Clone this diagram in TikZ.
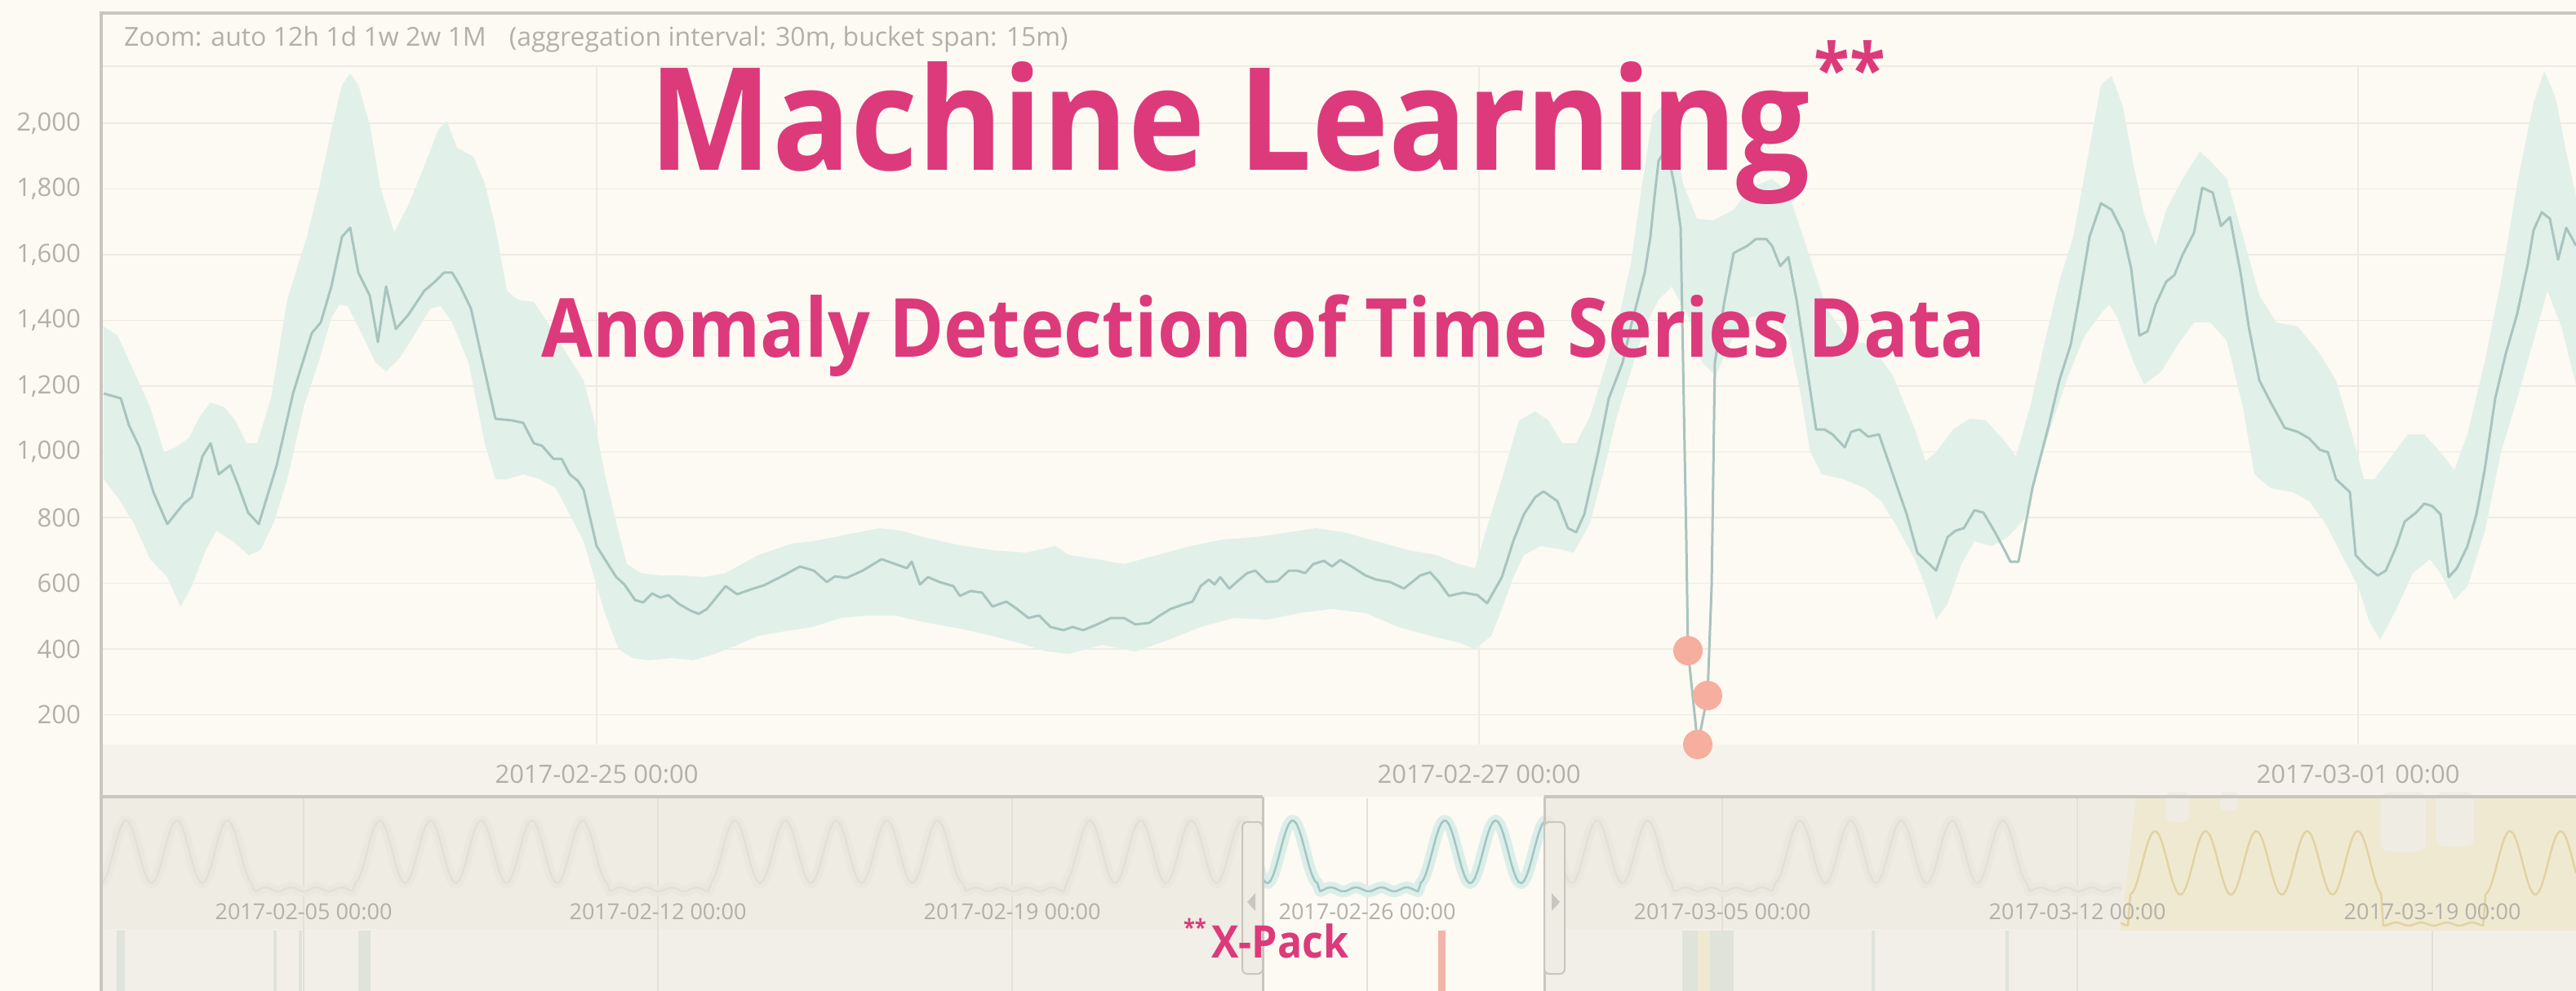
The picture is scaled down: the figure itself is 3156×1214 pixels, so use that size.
\documentclass[tikz,border=0pt]{standalone}
\usepackage{fontspec}
\setmainfont{Open Sans}
\newfontfamily\titlefont[FakeStretch=0.91]{Open Sans}

\definecolor{paper}{HTML}{FCFAF2}
\definecolor{framec}{HTML}{C8C6BE}
\definecolor{gridc}{HTML}{EEECE2}
\definecolor{labelc}{HTML}{B2B0A8}
\definecolor{bandc}{HTML}{E2F0EA}
\definecolor{linec}{HTML}{A8C4BF}
\definecolor{anomc}{HTML}{F6AE9F}
\definecolor{pinkc}{HTML}{DC3A7B}
\definecolor{axisbg}{HTML}{F4F2EA}
\definecolor{ovshade}{HTML}{EEECE3}
\definecolor{lanebg}{HTML}{F1EFE8}
\definecolor{grayband}{HTML}{EAE8DF}
\definecolor{grayline}{HTML}{E2E0D7}
\definecolor{yellowbg}{HTML}{F0E9D2}
\definecolor{yellowc}{HTML}{E2D2A3}
\definecolor{tealband}{HTML}{DCEEEA}
\definecolor{tealline}{HTML}{A2C6C1}
\definecolor{lanebar}{HTML}{DFE3DA}
\definecolor{redbar}{HTML}{F3B4A9}

\begin{document}
\begin{tikzpicture}[x=1pt, y=-1pt,
    declare function={
      dayno(\x)=(\x-372)/62.14;
      wkday(\x)=mod(floor(dayno(\x))+70,7);
      dayfrac(\x)=dayno(\x)-floor(dayno(\x));
      wkend(\x)=or(wkday(\x)==0,wkday(\x)==6);
      miniy(\x)=wkend(\x)*(1092-5*sin(360*dayfrac(\x))^2)+(1-wkend(\x))*(1082-77*sin(180*dayfrac(\x))^2);
      yelly(\x)=wkend(\x)*(1134-4*sin(360*dayfrac(\x))^2)+(1-wkend(\x))*(1096-78*sin(180*dayfrac(\x))^2);
    },
    chartlabel/.style={text=labelc, inner sep=0pt, font=\fontsize{31}{33}\selectfont},
    ovlabel/.style={text=labelc, inner sep=0pt, font=\fontsize{27}{29}\selectfont},
    gridline/.style={gridc, line width=1.5pt},
    frameline/.style={framec, line width=4pt},
    dataline/.style={linec, line width=3pt, line join=round},
    anomaly/.style={circle, fill=anomc, minimum size=36pt, inner sep=0pt},
    handle/.style={draw=framec, fill=ovshade, rounded corners=6pt, line width=2pt},
    pinktext/.style={text=pinkc, inner sep=0pt}]

  \useasboundingbox (0,0) rectangle (3156,1214);
  \fill[paper] (0,0) rectangle (3156,1214);

  % main chart
  \foreach \k in {0,...,9}
    \draw[gridline] (126,{151+80.5*\k}) -- (3156,{151+80.5*\k});
  \foreach \gx in {731,1812,2889}
    \draw[gridline] (\gx,81) -- (\gx,912);
  \draw[gridc, line width=2pt] (126,81) -- (3156,81);

  \begin{scope}
    \clip (126,82) rectangle (3156,912);
    \fill[bandc] plot coordinates {(127,400) (144,411) (164,455) (184,499) (201,554) (215,548) (231,537) (245,510) (258,493) (275,499) (288,515) (302,543) (315,543) (332,488) (352,367) (376,290) (392,225) (406,159) (419,104) (429,90) (439,104) (453,153) (466,230) (483,285) (500,252) (520,203) (537,159) (547,148) (560,181) (580,192) (594,225) (607,279) (621,356) (634,367) (654,370) (674,400) (694,433) (715,466) (728,515) (741,581) (755,641) (768,691) (785,702) (809,705) (835,705) (862,707) (889,702) (929,680) (970,666) (996,663) (1037,655) (1077,647) (1104,650) (1131,658) (1176,668) (1216,674) (1257,677) (1293,669) (1310,680) (1344,685) (1377,691) (1418,680) (1458,669) (1498,661) (1538,658) (1579,652) (1612,647) (1646,652) (1686,663) (1726,674) (1760,680) (1787,691) (1807,696) (1820,652) (1840,587) (1861,515) (1881,504) (1897,515) (1914,543) (1931,543) (1948,510) (1965,455) (1981,400) (1998,323) (2012,225) (2025,142) (2035,131) (2048,153) (2062,225) (2079,268) (2099,270) (2124,257) (2144,230) (2171,219) (2191,236) (2211,296) (2238,378) (2265,417) (2292,422) (2319,460) (2346,526) (2359,565) (2372,554) (2393,526) (2413,513) (2433,515) (2453,537) (2470,559) (2487,499) (2507,411) (2523,345) (2540,290) (2560,181) (2574,104) (2587,93) (2601,131) (2614,203) (2627,263) (2641,301) (2654,257) (2674,219) (2695,186) (2708,197) (2728,219) (2748,290) (2768,362) (2789,395) (2815,400) (2842,433) (2862,466) (2883,537) (2896,587) (2909,587) (2930,559) (2950,532) (2970,532) (2990,554) (3007,576) (3023,532) (3044,444) (3064,345) (3084,225) (3104,126) (3117,87) (3131,120) (3144,186) (3156,241)}
      -- plot coordinates {(3156,471) (3138,400) (3121,356) (3104,417) (3084,488) (3064,554) (3044,652) (3023,718) (3007,735) (2990,702) (2977,685) (2956,702) (2936,746) (2916,784) (2903,762) (2889,718) (2869,680) (2849,641) (2829,614) (2809,603) (2782,598) (2762,581) (2748,499) (2728,417) (2708,395) (2688,395) (2668,422) (2648,455) (2627,471) (2614,444) (2594,389) (2584,373) (2574,384) (2554,411) (2534,460) (2513,521) (2493,587) (2480,636) (2460,658) (2440,669) (2419,663) (2403,691) (2386,740) (2372,759) (2359,718) (2346,685) (2325,647) (2305,614) (2285,598) (2258,587) (2232,581) (2218,554) (2205,477) (2191,411) (2171,384) (2144,389) (2124,411) (2102,460) (2085,444) (2069,389) (2048,351) (2032,367) (2015,400) (1998,455) (1981,510) (1965,576) (1948,641) (1928,677) (1908,672) (1887,669) (1867,680) (1854,707) (1840,746) (1827,779) (1807,795) (1787,787) (1753,779) (1713,768) (1673,751) (1632,746) (1592,751) (1552,759) (1512,757) (1471,768) (1431,784) (1391,798) (1350,790) (1310,801) (1283,798) (1257,790) (1216,779) (1176,770) (1131,762) (1097,754) (1064,754) (1030,757) (996,768) (963,773) (929,779) (903,790) (876,801) (849,809) (822,806) (795,809) (775,806) (758,795) (741,751) (728,707) (715,663) (701,636) (681,598) (661,587) (641,581) (621,587) (607,587) (594,543) (574,444) (554,395) (540,375) (527,378) (507,411) (490,438) (473,455) (460,444) (439,400) (426,375) (416,373) (406,389) (392,438) (372,499) (352,587) (335,641) (319,674) (305,680) (285,663) (265,650) (252,674) (235,718) (221,743) (205,707) (184,685) (164,641) (144,609) (127,587)} -- cycle;
  \end{scope}

  \draw[dataline] plot coordinates {(127,482) (148,488) (158,521) (171,548) (188,603) (205,642) (225,617) (235,609) (248,559) (258,543) (268,581) (282,570) (292,595) (304,628) (317,642) (339,570) (359,482) (382,408) (393,395) (406,351) (419,290) (429,279) (439,334) (453,362) (463,419) (473,351) (485,403) (500,386) (520,356) (533,345) (544,334) (554,334) (564,351) (577,378) (594,455) (607,513) (627,515) (641,518) (654,543) (664,546) (678,562) (688,562) (698,581) (708,589) (715,600) (731,669) (741,685) (755,707) (765,716) (778,735) (788,738) (799,727) (809,732) (819,729) (832,740) (846,748) (856,752) (866,746) (889,718) (903,728) (923,721) (936,717) (956,707) (980,694) (997,699) (1013,713) (1023,706) (1037,708) (1057,699) (1080,685) (1097,691) (1111,696) (1117,688) (1127,716) (1137,707) (1151,713) (1168,718) (1176,730) (1189,724) (1203,726) (1216,743) (1233,737) (1246,746) (1260,757) (1273,754) (1287,768) (1303,772) (1314,768) (1327,772) (1344,765) (1361,757) (1377,757) (1391,765) (1408,763) (1421,754) (1434,746) (1451,740) (1461,737) (1471,718) (1481,710) (1488,716) (1495,707) (1506,721) (1515,713) (1528,702) (1538,699) (1552,713) (1565,712) (1579,699) (1589,699) (1599,702) (1609,691) (1622,687) (1632,694) (1642,686) (1656,694) (1673,705) (1686,710) (1703,713) (1720,721) (1730,713) (1740,705) (1752,701) (1763,713) (1775,730) (1793,726) (1810,729) (1822,739) (1840,707) (1854,663) (1867,630) (1881,609) (1891,602) (1908,614) (1921,647) (1931,652) (1941,630) (1958,554) (1971,488) (1988,444) (1998,400) (2015,334) (2022,290) (2027,241) (2032,197) (2042,181) (2052,230) (2059,279) (2062,444) (2066,663) (2068,797) (2080,912) (2092,852) (2097,718) (2101,444) (2112,373) (2124,310) (2141,301) (2151,293) (2164,293) (2171,301) (2181,326) (2191,315) (2201,367) (2211,433) (2225,526) (2235,526) (2245,532) (2260,548) (2268,529) (2278,526) (2289,535) (2302,532) (2319,581) (2336,630) (2349,677) (2372,699) (2386,658) (2396,650) (2406,647) (2419,625) (2430,628) (2443,650) (2456,674) (2463,688) (2473,688) (2490,598) (2510,521) (2523,466) (2537,422) (2547,367) (2560,290) (2574,249) (2587,257) (2601,285) (2611,329) (2621,411) (2631,406) (2641,373) (2654,345) (2664,337) (2674,312) (2688,285) (2698,230) (2711,236) (2721,277) (2732,266) (2745,334) (2755,400) (2768,466) (2782,493) (2799,524) (2815,529) (2829,537) (2842,551) (2852,554) (2862,587) (2879,603) (2886,680) (2899,694) (2913,705) (2923,699) (2936,669) (2946,639) (2960,628) (2970,617) (2980,620) (2990,630) (3000,707) (3010,696) (3023,669) (3034,630) (3044,576) (3057,488) (3070,433) (3084,384) (3097,323) (3104,282) (3114,260) (3124,268) (3134,318) (3144,279) (3156,301)};

  \fill[axisbg] (126,912) rectangle (3156,976);

  \node[chartlabel, anchor=west, font=\fontsize{32}{34}\selectfont] (zoombar) at (152,48)
    {Zoom: auto 12h 1d 1w 2w 1M\hspace{28pt}(aggregation interval: 30m, bucket span: 15m)};
  \foreach \v/\t in {2000/{2,000},1800/{1,800},1600/{1,600},1400/{1,400},1200/{1,200},1000/{1,000},800/800,600/600,400/400,200/200}
    \node[chartlabel, anchor=east] (ylab\v) at (99,{151+(2000-\v)*0.4025}) {\t};
  \node[chartlabel] (xlab1) at (731,948) {2017-02-25 00:00};
  \node[chartlabel] (xlab2) at (1812,948) {2017-02-27 00:00};
  \node[chartlabel] (xlab3) at (2889,948) {2017-03-01 00:00};

  \node[anomaly] (anom1) at (2068,797) {};
  \node[anomaly] (anom2) at (2092,852) {};
  \node[anomaly] (anom3) at (2080,912) {};

  % overview
  \fill[ovshade] (126,978) rectangle (3156,1214);
  \fill[lanebg] (126,1138) rectangle (3156,1214);
  \fill[paper] (1547,978) rectangle (1892,1214);
  \foreach \gx in {372,806,1240,1675,2110,2545,2980}
    \draw[grayline, line width=1.5pt] (\gx,978) -- (\gx,1214);
  \fill[yellowbg] (2617,978) -- (3156,978) -- (3156,1140) -- (2598,1140) -- cycle;
  \fill[ovshade, rounded corners=8pt] (2653,970) rectangle (2682,1007);
  \fill[ovshade, rounded corners=6pt] (2720,970) rectangle (2742,993);
  \fill[ovshade, rounded corners=10pt] (2917,970) rectangle (2972,1043);
  \fill[ovshade, rounded corners=10pt] (2984,970) rectangle (3031,1037);

  \begin{scope}
    \clip (126,978) rectangle (1547,1138) (1892,978) rectangle (2600,1138);
    \draw[grayband, line width=13pt, line join=round] plot[domain=124:2600, samples=700] (\x,{miniy(\x)});
    \draw[grayline, line width=2.5pt, line join=round] plot[domain=124:2600, samples=700] (\x,{miniy(\x)});
  \end{scope}
  \begin{scope}
    \clip (1547,978) rectangle (1892,1138);
    \draw[tealband, line width=14pt, line join=round] plot[domain=1500:1940, samples=140] (\x,{miniy(\x)});
    \draw[tealline, line width=2.5pt, line join=round] plot[domain=1500:1940, samples=140] (\x,{miniy(\x)});
  \end{scope}
  \begin{scope}
    \clip (2598,978) rectangle (3156,1140);
    \draw[yellowc, line width=2.5pt, line join=round] plot[domain=2590:3156, samples=200] (\x,{yelly(\x)});
  \end{scope}

  \foreach \d/\gx in {05/372,12/806,19/1240}
    \node[ovlabel] (ovlab02\d) at (\gx,1117) {2017-02-\d{} 00:00};
  \node[ovlabel] (ovlab0226) at (1675,1117) {2017-02-26 00:00};
  \foreach \d/\gx in {05/2110,12/2545,19/2980}
    \node[ovlabel] (ovlab03\d) at (\gx,1117) {2017-03-\d{} 00:00};

  \fill[lanebar] (143,1140) rectangle (153,1214);
  \fill[lanebar] (335,1140) rectangle (339,1214);
  \fill[lanebar] (366,1140) rectangle (370,1214);
  \fill[lanebar] (439,1140) rectangle (454,1214);
  \fill[lanebar] (2061,1140) rectangle (2080,1214);
  \fill[yellowbg] (2080,1140) rectangle (2095,1214);
  \fill[lanebar] (2095,1140) rectangle (2124,1214);
  \fill[lanebar] (2293,1140) rectangle (2297,1214);
  \fill[lanebar] (2457,1140) rectangle (2461,1214);
  \fill[redbar] (1762,1140) rectangle (1771,1214);

  % frame and brush
  \draw[frameline] (124,16) -- (3156,16);
  \draw[frameline] (124,14) -- (124,1214);
  \draw[frameline] (124,976) -- (1547,976);
  \draw[frameline] (1892,976) -- (3156,976);
  \draw[framec, line width=3pt] (1547,976) -- (1547,1214);
  \draw[framec, line width=3pt] (1892,976) -- (1892,1214);
  \draw[handle] (1522,1007) rectangle (1547,1193);
  \draw[handle] (1892,1007) rectangle (1917,1193);
  \fill[framec] (1528,1105) -- (1538,1094) -- (1538,1116) -- cycle;
  \fill[framec] (1911,1105) -- (1901,1094) -- (1901,1116) -- cycle;

  % titles
  \node[pinktext, anchor=base, font=\titlefont\bfseries\fontsize{175}{180}\selectfont] (title) at (1507,209) {Machine Learning};
  \node[pinktext, anchor=base west, font=\titlefont\bfseries\fontsize{88}{90}\selectfont] (titlestar) at ([xshift=4pt, yshift=92pt]title.base east) {**};
  \node[pinktext, anchor=base, font=\titlefont\bfseries\fontsize{100}{102}\selectfont] (subtitle) at (1548,437) {Anomaly Detection of Time Series Data};
  \node[pinktext, anchor=base west, font=\titlefont\bfseries\fontsize{55}{57}\selectfont] (xpack) at (1484,1173) {X-Pack};
  \node[pinktext, anchor=base east, font=\titlefont\bfseries\fontsize{28}{30}\selectfont] (xpackstar) at ([xshift=-6pt, yshift=27pt]xpack.base west) {**};
\end{tikzpicture}
\end{document}
